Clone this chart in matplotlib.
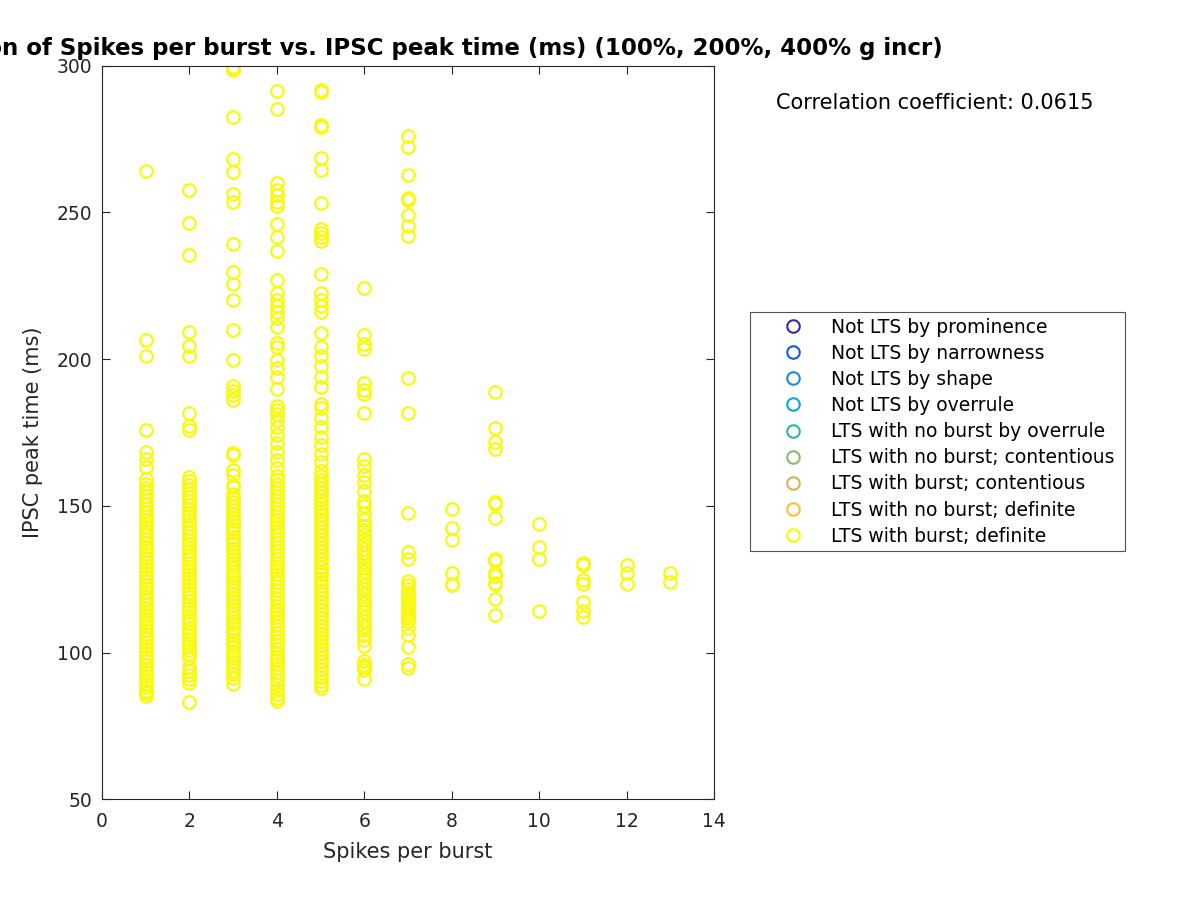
"""Scatter of spikes per burst vs. IPSC peak time, MATLAB-style look."""
import matplotlib
matplotlib.use("Agg")
import matplotlib.pyplot as plt

# IPSC peak times (ms), one list per spikes-per-burst value
spb_1 = [264.2, 206.5, 201.0, 176.0, 168.3, 166.0, 163.2, 159.0,
         157.5, 156.0, 154.8, 153.2, 152.0, 150.5, 149.1, 148.0, 146.6, 145.2,
         144.0, 142.7, 141.3, 140.1, 138.8, 137.4, 136.0, 134.9, 133.5, 132.2,
         131.0, 129.6, 128.3, 127.1, 125.8, 124.4, 123.0, 121.9, 120.5, 119.2,
         118.0, 116.6, 115.3, 114.1, 112.8, 111.4, 110.0, 108.9, 107.5, 106.2,
         105.0, 103.6, 102.3, 101.1, 99.8, 98.4, 97.0, 95.9, 94.5, 93.2, 92.0,
         90.6, 89.3, 88.1, 87.0, 86.2, 85.3]
spb_2 = [257.6, 246.4, 235.5, 209.4, 204.3, 201.0, 181.6, 177.2, 175.8,
         159.8, 158.4, 157.1, 155.6, 154.2, 153.0, 151.7, 150.3, 149.0, 147.6,
         146.4, 145.0, 143.7, 142.3, 141.1, 139.8, 138.4, 137.0, 135.9, 134.5,
         133.2, 132.0, 130.6, 129.3, 128.1, 126.8, 125.4, 124.0, 122.9, 121.5,
         120.2, 119.0, 117.6, 116.3, 115.1, 113.8, 112.4, 111.0, 109.9, 108.5,
         107.2, 106.0, 104.6, 103.3, 102.1, 100.8, 99.4, 98.1,
         95.2, 93.8, 92.3, 90.8, 89.5, 83.0]
spb_3 = [299.7, 299.2, 298.4, 282.5, 268.2, 263.6, 256.4, 253.5, 239.2,
         229.8, 225.6, 220.0, 210.0, 199.6, 190.7, 189.2, 187.6, 186.2, 168.0,
         167.4, 162.2, 160.5, 157.0, 156.4,
         154.0, 152.6, 151.3, 150.0, 148.7, 147.3, 146.0, 144.8, 143.4, 142.1,
         140.9, 139.5, 138.2, 137.0, 135.6, 134.3, 133.1, 131.7, 130.4, 129.2,
         127.8, 126.5, 125.3, 123.9, 122.6, 121.4, 120.0, 118.7, 117.5, 116.1,
         114.8, 113.6, 112.2, 110.9, 109.7, 108.3, 107.0, 105.8, 104.4, 103.1,
         101.9, 100.5, 99.2, 98.0, 96.6, 95.3, 94.1, 92.7, 91.4, 89.2]
spb_4 = [291.5, 285.4, 260.1, 257.8, 255.9, 253.7, 252.3, 246.2, 241.7,
         236.9, 227.0, 222.6, 220.3, 218.2, 216.0, 214.0, 211.0, 205.5, 204.0,
         199.7, 197.0, 194.0, 189.8, 184.0, 182.7, 181.3, 179.2, 177.0, 174.0,
         171.3, 168.4, 165.6, 162.9,
         160.0, 158.7, 157.3, 156.0, 154.6, 153.3, 152.0, 150.7, 149.3, 148.0,
         146.6, 145.3, 144.0, 142.7, 141.3, 140.0, 138.6, 137.3, 136.0, 134.7,
         133.3, 132.0, 130.6, 129.3, 128.0, 126.7, 125.3, 124.0, 122.6, 121.3,
         120.0, 118.7, 117.3, 116.0, 114.6, 113.3, 112.0, 110.7, 109.3, 108.0,
         106.6, 105.3, 104.0, 102.7, 101.3, 100.0, 98.6, 97.3, 96.0, 94.7, 93.3,
         92.0, 90.6, 89.3, 87.1, 85.9, 84.6, 83.4]
spb_5 = [291.6, 290.9, 279.8, 279.2, 268.6, 264.4, 253.2, 244.5, 243.0,
         241.7, 240.1, 228.9, 222.6, 220.3, 218.2, 216.0, 209.0, 204.0, 201.0,
         197.7, 194.0, 190.5, 184.8, 183.4, 180.0, 177.0, 173.5, 170.7, 167.7,
         165.0, 162.0,
         160.2, 158.8, 157.5, 156.1, 154.8, 153.4, 152.1, 150.8, 149.4, 148.1,
         146.7, 145.4, 144.0, 142.7, 141.4, 140.0, 138.7, 137.3, 136.0, 134.6,
         133.3, 132.0, 130.6, 129.3, 127.9, 126.6, 125.2, 123.9, 122.6, 121.2,
         119.9, 118.5, 117.2, 115.8, 114.5, 113.2, 111.8, 110.5, 109.1, 107.8,
         106.4, 105.1, 103.8, 102.4, 101.1, 99.7, 98.4, 97.0, 95.7, 94.4, 93.0,
         91.7, 90.3, 89.0, 87.8]
spb_6 = [224.4, 208.1, 205.2, 203.5, 191.9, 189.4, 188.0, 181.6, 166.1,
         163.7, 160.4, 158.1, 155.2, 151.6, 149.8, 147.3, 145.0,
         143.1, 141.6, 140.2, 138.5, 137.1, 135.4, 133.8, 132.5, 130.9, 129.3,
         127.8, 126.2, 124.6, 123.1, 121.7, 120.0, 118.4, 116.9, 115.3, 113.8,
         112.2, 110.7, 109.1, 107.6, 106.0, 104.3, 102.2,
         97.2, 95.8, 95.0, 94.1, 90.8]
spb_7 = [276.2, 272.3, 262.6, 255.0, 254.2, 249.0, 245.5, 242.0, 193.6,
         181.5, 147.5, 134.3, 132.0, 124.2, 123.0, 121.8, 120.4, 119.5, 118.2,
         117.0, 116.1, 115.3, 114.4, 113.5, 112.6, 111.8, 110.7, 108.5, 106.0,
         101.8, 96.0, 94.6]
spb_8 = [148.9, 142.5, 138.3, 127.0, 123.5, 123.0]
spb_9 = [188.7, 176.5, 171.9, 169.5, 151.4, 150.6, 146.0, 131.8, 131.2,
         127.0, 126.0, 123.8, 123.2, 118.3, 112.7]
spb_10 = [143.9, 136.0, 131.8, 114.1]
spb_11 = [130.4, 129.8, 124.7, 123.5, 117.1, 114.1, 112.2]
spb_12 = [129.8, 127.0, 123.3]
spb_13 = [127.0, 124.0]

columns = [spb_1, spb_2, spb_3, spb_4, spb_5, spb_6, spb_7,
           spb_8, spb_9, spb_10, spb_11, spb_12, spb_13]

categories = ["Not LTS by prominence", "Not LTS by narrowness",
              "Not LTS by shape", "Not LTS by overrule",
              "LTS with no burst by overrule", "LTS with no burst; contentious",
              "LTS with burst; contentious", "LTS with no burst; definite",
              "LTS with burst; definite"]
cat_colors = ["#3e2b9a", "#105ee0", "#1f88e0", "#0aa8cc", "#2cb7a0",
              "#82c06c", "#d2b552", "#fbbf2c", "#f9f90f"]

corr_text = "Correlation coefficient: 0.0615"
title = ("Correlation of Spikes per burst vs. IPSC peak time (ms) "
         "(100%, 200%, 400% g incr)")


def main():
    fig = plt.figure(figsize=(12, 9), dpi=100)
    ax = fig.add_axes([0.085, 0.112, 0.51, 0.815])

    # only the last category has data; the others are legend-only entries
    for name, col in zip(categories[:-1], cat_colors[:-1]):
        ax.plot([], [], "o", ms=9, mfc="none", mec=col, mew=1.5, label=name)
    xs, ys = [], []
    for k, vals in enumerate(columns, start=1):
        xs += [k] * len(vals)
        ys += vals
    ax.plot(xs, ys, "o", ls="none", ms=9, mfc="none", mec=cat_colors[-1],
            mew=1.6, label=categories[-1])

    ax.set_xlim(0, 14)
    ax.set_ylim(50, 300)
    ax.set_xticks(range(0, 15, 2))
    ax.set_yticks(range(50, 301, 50))
    ax.tick_params(direction="in", labelsize=13.5, colors="#262626",
                   top=True, right=True, length=6)
    ax.tick_params(axis="x", pad=9)
    ax.tick_params(axis="y", pad=7)
    for s in ax.spines.values():
        s.set_color("#262626")
        s.set_linewidth(0.8)
    ax.set_xlabel("Spikes per burst", fontsize=15, color="#262626", labelpad=8)
    ax.set_ylabel("IPSC peak time (ms)", fontsize=15, color="#262626",
                  labelpad=10)
    ax.set_title(title, fontsize=16.5, fontweight="bold", pad=8)

    fig.text(0.647, 0.8856, corr_text, fontsize=15, va="center")

    leg = ax.legend(loc="upper left", bbox_to_anchor=(0.625, 0.386, 0.3125, 0.2673),
                    bbox_transform=fig.transFigure, mode="expand",
                    fontsize=13.5, frameon=True, fancybox=False,
                    handletextpad=0.0, borderpad=0.3, labelspacing=0.38,
                    handlelength=4.0, borderaxespad=0.0)
    leg.get_frame().set_edgecolor("#262626")
    leg.get_frame().set_linewidth(0.8)

    fig.savefig("out.png", dpi=100)


if __name__ == "__main__":
    main()
